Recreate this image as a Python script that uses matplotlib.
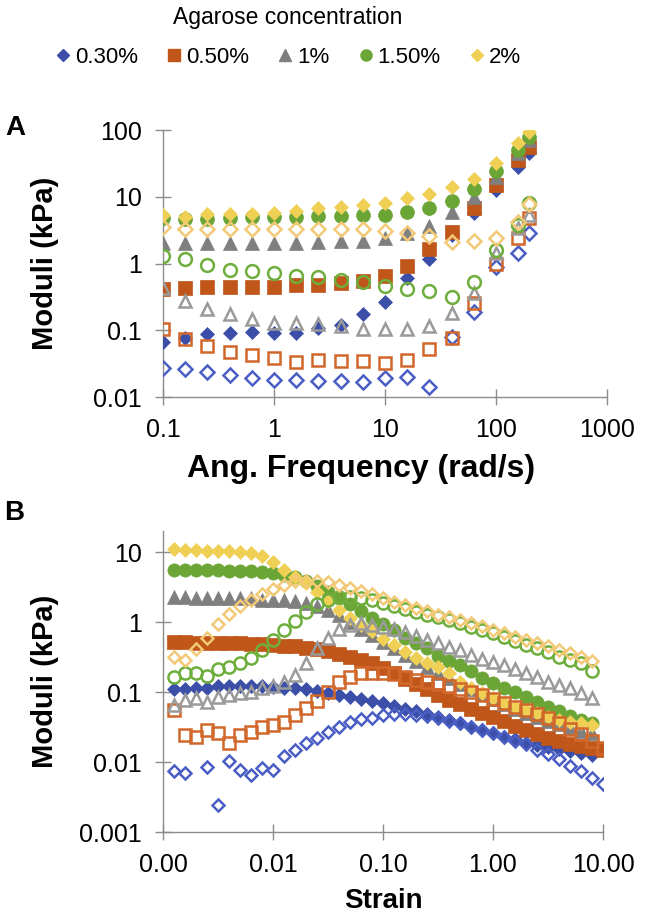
import numpy as np
import matplotlib.pyplot as plt
from matplotlib.lines import Line2D
from matplotlib.ticker import FixedLocator, NullLocator, FuncFormatter

plt.rcParams['font.family'] = ['Liberation Sans', 'DejaVu Sans']

# ---- data ----
labels = ['0.30%', '0.50%', '1%', '1.50%', '2%']
markers = ['D', 's', '^', 'o', 'D']
fill_colors = ['#3B4EA8', '#C0561A', '#7F7F7F', '#6AA536', '#F0CF55']
edge_colors = ['#4A5EC4', '#D2672A', '#9A9A9A', '#6EAE3C', '#F3C976']

# A: frequency sweep (rad/s)
freq = [0.1, 0.158, 0.251, 0.398, 0.631, 1.0, 1.58, 2.51, 3.98, 6.31,
        10.0, 15.8, 25.1, 39.8, 63.1, 100.0, 158.0, 200.0]
gp_a_03 = [0.066, 0.077, 0.087, 0.091, 0.094, 0.091, 0.091, 0.108, 0.12, 0.175, 0.265, 0.6, 1.15, 2.7, 5.7, 12.6, 28, 45]
gpp_a_03 = [0.027, 0.026, 0.024, 0.021, 0.019, 0.018, 0.018, 0.0175, 0.0175, 0.0165, 0.019, 0.02, 0.014, 0.079, 0.19, 0.89, 1.43, 2.85]
gp_a_05 = [0.41, 0.43, 0.44, 0.44, 0.44, 0.45, 0.48, 0.48, 0.51, 0.55, 0.65, 0.92, 1.65, 3.0, 6.8, 15, 36, 56]
gpp_a_05 = [0.104, 0.073, 0.058, 0.047, 0.042, 0.038, 0.033, 0.036, 0.035, 0.035, 0.032, 0.036, 0.052, 0.077, 0.26, 1.0, 2.4, 4.8]
gp_a_1 = [2.0, 2.0, 2.0, 2.0, 2.0, 2.0, 2.0, 2.1, 2.2, 2.2, 2.4, 2.9, 3.7, 5.9, 9.9, 20, 45, 71]
gpp_a_1 = [0.43, 0.27, 0.21, 0.175, 0.147, 0.128, 0.128, 0.124, 0.116, 0.104, 0.104, 0.104, 0.116, 0.18, 0.36, 1.44, 3.4, 5.3]
gp_a_15 = [4.8, 4.6, 4.6, 4.8, 5.0, 5.0, 5.0, 5.2, 5.2, 5.3, 5.3, 5.9, 6.9, 8.6, 13, 24, 50, 79]
gpp_a_15 = [1.3, 1.17, 0.95, 0.8, 0.77, 0.72, 0.65, 0.62, 0.57, 0.53, 0.46, 0.41, 0.39, 0.31, 0.53, 1.6, 3.8, 8.0]
gp_a_2 = [5.3, 5.0, 5.5, 5.5, 5.5, 5.7, 6.1, 6.8, 7.0, 7.5, 8.1, 9.6, 11, 14, 18.6, 32, 64, 94]
gpp_a_2 = [3.5, 3.3, 3.3, 3.3, 3.3, 3.3, 3.3, 3.3, 3.3, 3.3, 3.1, 2.9, 2.6, 2.1, 2.2, 2.4, 4.2, 7.8]

# B: strain sweep
strain = [0.00126, 0.00158, 0.002, 0.00251, 0.00316, 0.00398, 0.00501, 0.00631, 0.00794, 0.01,
          0.0126, 0.0158, 0.02, 0.0251, 0.0316, 0.0398, 0.0501, 0.0631, 0.0794, 0.1,
          0.126, 0.158, 0.2, 0.251, 0.316, 0.398, 0.501, 0.631, 0.794, 1.0,
          1.26, 1.58, 2.0, 2.51, 3.16, 3.98, 5.01, 6.31, 7.94, 10.0]
nan = np.nan
gp_b_03 = [0.11, 0.11, 0.115, 0.115, 0.12, 0.12, 0.12, 0.12, 0.12, 0.118,
           0.116, 0.114, 0.11, 0.105, 0.098, 0.092, 0.085, 0.08, 0.075, 0.069,
           0.063, 0.058, 0.053, 0.048, 0.044, 0.04, 0.036, 0.032, 0.029, 0.026,
           0.023, 0.021, 0.019, 0.0175, 0.0165, 0.0155, 0.0145, 0.0135, 0.0128, nan]
gpp_b_03 = [0.0075, 0.007, nan, 0.0085, 0.0024, 0.0104, 0.0077, 0.0066, 0.0082, 0.0077,
            0.0122, 0.015, 0.019, 0.022, 0.027, 0.032, 0.037, 0.041, 0.043, 0.047,
            0.048, 0.048, 0.047, 0.045, 0.042, 0.039, 0.036, 0.032, 0.029, 0.026,
            0.023, 0.02, 0.018, 0.015, 0.013, 0.011, 0.0088, 0.0074, 0.006, 0.0048]
gp_b_05 = [0.52, 0.52, 0.51, 0.51, 0.5, 0.5, 0.5, 0.49, 0.48, 0.47,
           0.46, 0.45, 0.43, 0.41, 0.38, 0.35, 0.32, 0.29, 0.26, 0.22,
           0.185, 0.155, 0.13, 0.11, 0.09, 0.078, 0.067, 0.058, 0.05, 0.044,
           0.038, 0.033, 0.029, 0.025, 0.022, 0.02, 0.018, 0.017, 0.016, 0.015]
gpp_b_05 = [0.055, 0.024, 0.023, 0.029, 0.026, 0.019, 0.024, 0.027, 0.032, 0.034,
            0.037, 0.047, 0.06, 0.075, 0.1, 0.14, 0.165, 0.185, 0.19, 0.19,
            0.18, 0.165, 0.15, 0.14, 0.13, 0.12, 0.11, 0.1, 0.09, 0.08,
            0.07, 0.062, 0.055, 0.048, 0.042, 0.036, 0.03, 0.025, 0.02, 0.016]
gp_b_1 = [2.3, 2.3, 2.2, 2.2, 2.2, 2.2, 2.2, 2.2, 2.1, 2.1,
          2.1, 2.0, 1.9, 1.7, 1.5, 1.25, 1.0, 0.8, 0.65, 0.52,
          0.42, 0.34, 0.28, 0.23, 0.19, 0.16, 0.13, 0.11, 0.095, 0.08,
          0.068, 0.058, 0.05, 0.044, 0.039, 0.035, 0.031, 0.028, 0.026, nan]
gpp_b_1 = [0.065, 0.077, 0.082, 0.072, 0.085, 0.09, 0.097, 0.1, 0.114, 0.122,
           0.14, 0.175, 0.26, 0.42, 0.6, 0.8, 0.92, 0.97, 0.92, 0.85,
           0.8, 0.72, 0.64, 0.56, 0.5, 0.44, 0.4, 0.34, 0.3, 0.27,
           0.24, 0.21, 0.19, 0.165, 0.14, 0.126, 0.114, 0.097, 0.082, nan]
gp_b_15 = [5.5, 5.5, 5.5, 5.5, 5.5, 5.4, 5.4, 5.3, 5.2, 5.0,
           4.7, 4.4, 3.9, 3.3, 2.7, 2.2, 1.8, 1.45, 1.15, 0.95,
           0.78, 0.6, 0.5, 0.42, 0.33, 0.28, 0.24, 0.2, 0.16, 0.135,
           0.115, 0.1, 0.085, 0.072, 0.062, 0.054, 0.046, 0.04, 0.036, nan]
gpp_b_15 = [0.165, 0.19, 0.19, 0.17, 0.21, 0.23, 0.26, 0.31, 0.4, 0.55,
            0.77, 1.05, 1.4, 1.8, 2.1, 2.3, 2.3, 2.2, 2.05, 1.85,
            1.7, 1.55, 1.4, 1.27, 1.18, 1.07, 0.97, 0.86, 0.77, 0.7,
            0.62, 0.54, 0.47, 0.43, 0.37, 0.32, 0.29, 0.26, 0.2, nan]
gp_b_2 = [11.0, 10.8, 10.6, 10.5, 10.4, 10.2, 10.0, 9.7, 8.8, 7.3,
          5.5, 4.4, 3.6, 2.7, 2.0, 1.5, 1.15, 0.9, 0.75, 0.58,
          0.47, 0.37, 0.31, 0.26, 0.23, 0.19, 0.14, 0.114, 0.097, 0.082,
          0.07, 0.062, 0.055, 0.05, 0.044, 0.04, 0.037, 0.036, 0.034, nan]
gpp_b_2 = [0.32, 0.29, 0.41, 0.6, 0.95, 1.3, 1.7, 2.1, 2.5, 3.0,
           3.4, 3.8, 3.9, 3.9, 3.7, 3.4, 3.1, 2.8, 2.5, 2.2,
           1.95, 1.75, 1.58, 1.42, 1.28, 1.17, 1.07, 0.97, 0.87, 0.78,
           0.7, 0.62, 0.55, 0.5, 0.45, 0.4, 0.36, 0.32, 0.28, nan]

gp_a = [gp_a_03, gp_a_05, gp_a_1, gp_a_15, gp_a_2]
gpp_a = [gpp_a_03, gpp_a_05, gpp_a_1, gpp_a_15, gpp_a_2]
gp_b = [gp_b_03, gp_b_05, gp_b_1, gp_b_15, gp_b_2]
gpp_b = [gpp_b_03, gpp_b_05, gpp_b_1, gpp_b_15, gpp_b_2]

fig = plt.figure(figsize=(6.64, 9.22), dpi=100)
axA = fig.add_axes([163/664, 1 - 397/922, 444/664, 267/922])
axB = fig.add_axes([163/664, 1 - 832/922, 440/664, 301/922])


def msize(m, base):
    # diamonds are drawn bigger by matplotlib, scale them down
    return base * 0.72 if m == 'D' else base


def draw(ax, x, gps, gpps, ms):
    for i in range(5):
        m = markers[i]
        ax.plot(x, gps[i], linestyle='none', marker=m, ms=msize(m, ms),
                mfc=fill_colors[i], mec=fill_colors[i], mew=0.5, zorder=3)
    for i in range(5):
        m = markers[i]
        ax.plot(x, gpps[i], linestyle='none', marker=m, ms=msize(m, ms) * 0.92,
                mfc='none', mec=edge_colors[i], mew=1.8, zorder=4)


draw(axA, freq, gp_a, gpp_a, 10)
draw(axB, strain, gp_b, gpp_b, 9.5)

for ax in (axA, axB):
    ax.set_xscale('log')
    ax.set_yscale('log')
    for s in ('top', 'right'):
        ax.spines[s].set_visible(False)
    for s in ('left', 'bottom'):
        ax.spines[s].set_color('#8C8C8C')
        ax.spines[s].set_linewidth(1.0)
    ax.tick_params(which='major', direction='inout', length=12, width=1.0,
                   color='#8C8C8C', labelsize=18, pad=9)
    ax.xaxis.set_minor_locator(NullLocator())
    ax.yaxis.set_minor_locator(NullLocator())
    ax.set_ylabel('Moduli (kPa)', fontsize=21, fontweight='bold')

axA.yaxis.set_label_coords(-0.235, 0.5)
axB.yaxis.set_label_coords(-0.237, 0.5)

axA.set_xlim(0.1, 1000)
axA.set_ylim(0.01, 100)
axA.xaxis.set_major_locator(FixedLocator([0.1, 1, 10, 100, 1000]))
axA.yaxis.set_major_locator(FixedLocator([0.01, 0.1, 1, 10, 100]))
axA.xaxis.set_major_formatter(FuncFormatter(lambda v, p: '{:g}'.format(v)))
axA.yaxis.set_major_formatter(FuncFormatter(lambda v, p: '{:g}'.format(v)))
axA.set_xlabel('Ang. Frequency (rad/s)', fontsize=23, fontweight='bold')
axA.xaxis.set_label_coords(0.446, -0.215)

axB.set_xlim(0.001, 10)
axB.set_ylim(0.001, 20)
axB.xaxis.set_major_locator(FixedLocator([0.001, 0.01, 0.1, 1, 10]))
axB.yaxis.set_major_locator(FixedLocator([0.001, 0.01, 0.1, 1, 10]))
axB.xaxis.set_major_formatter(FuncFormatter(lambda v, p: '{:.2f}'.format(v)))
axB.yaxis.set_major_formatter(FuncFormatter(lambda v, p: '{:g}'.format(v)))
axB.set_xlabel('Strain', fontsize=20, fontweight='bold', labelpad=8)

fig.text(5/664, 1 - 128/922, 'A', fontsize=20, fontweight='bold', va='center')
fig.text(4/664, 1 - 513/922, 'B', fontsize=20, fontweight='bold', va='center')

handles = [Line2D([], [], linestyle='none', marker=markers[i], ms=msize(markers[i], 8),
                  mfc=fill_colors[i], mec=fill_colors[i]) for i in range(5)]
fig.legend(handles, labels, loc='upper center', bbox_to_anchor=(288/664, 0.998),
           ncol=5, frameon=False, fontsize=16, title='Agarose concentration',
           title_fontsize=16.5, columnspacing=1.27, handlelength=0.7,
           handletextpad=0.2, borderaxespad=0.1, borderpad=0.1, labelspacing=0.8)

fig.savefig('out.png', dpi=100)
